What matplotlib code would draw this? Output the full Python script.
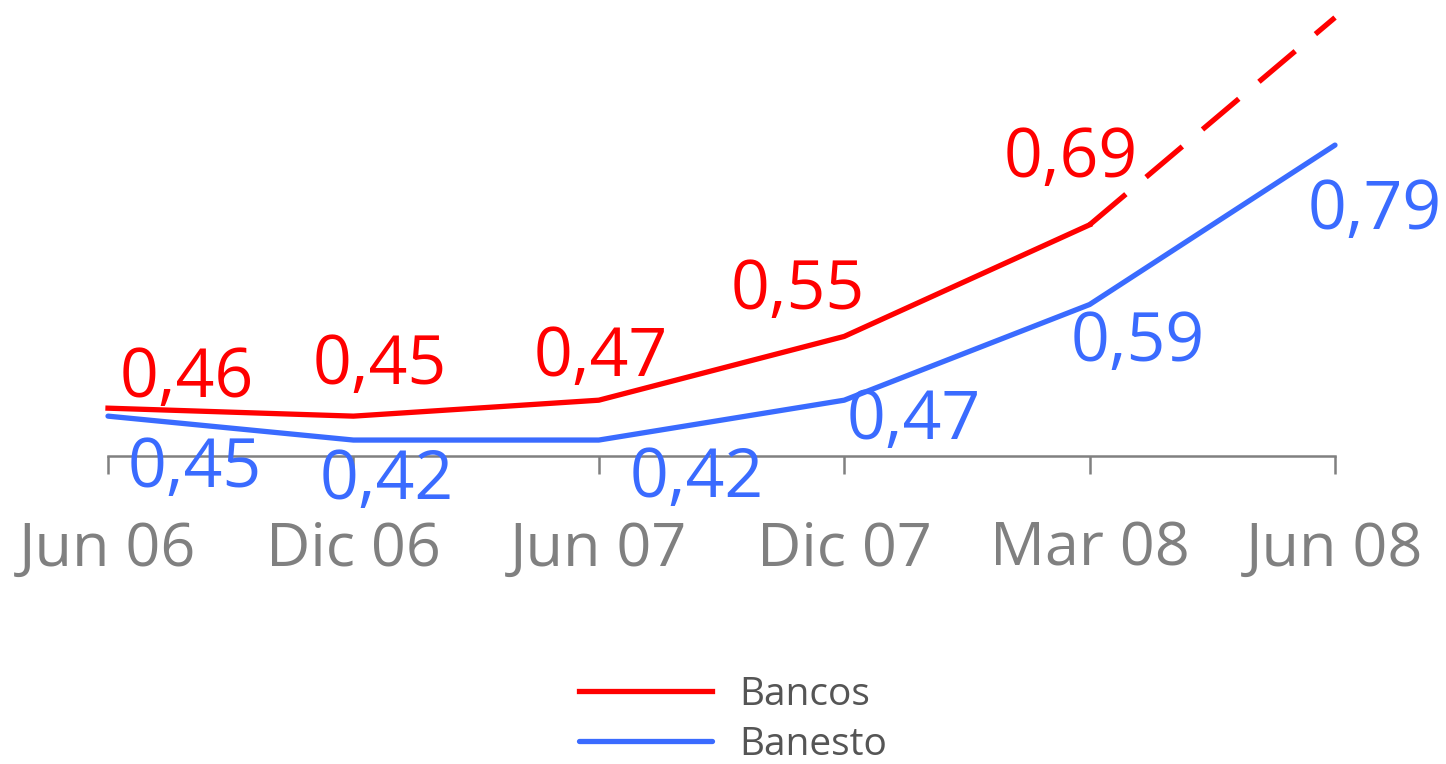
import matplotlib
matplotlib.use("Agg")
import matplotlib.pyplot as plt

periods = ["Jun 06", "Dic 06", "Jun 07", "Dic 07", "Mar 08", "Jun 08"]
bancos = [0.46, 0.45, 0.47, 0.55, 0.69]
bancos_jun08 = 0.95  # estimated, drawn dashed, no label
banesto = [0.45, 0.42, 0.42, 0.47, 0.59, 0.79]

RED = "#ff0000"
BLUE = "#3a6bff"
GRAY = "#808080"

# label offsets in pixels (dx, dy) relative to each point
bancos_offsets = [(79, 29), (26, 50), (2, 42), (-46, 45), (-19, 66)]
banesto_offsets = [(87, -53), (33, -41), (98, -39), (70, -21), (48, -39), (40, -66)]

plt.rcParams["font.family"] = ["Open Sans", "DejaVu Sans"]

fig = plt.figure(figsize=(14.46, 7.64), dpi=100)
ax = fig.add_axes([108 / 1446, 1 - 456 / 764, (1335 - 108) / 1446, 456 / 764])

x = list(range(len(periods)))
ax.plot(x[:len(bancos)], bancos, color=RED, linewidth=3.8, label="Bancos",
        clip_on=False)
ax.plot([x[len(bancos) - 1], x[-1]], [bancos[-1], bancos_jun08], color=RED,
        linewidth=3.8, dashes=(9, 5), clip_on=False)
ax.plot(x, banesto, color=BLUE, linewidth=3.8, label="Banesto",
        solid_capstyle="round", clip_on=False)

def fmt(v):
    return f"{v:.2f}".replace(".", ",")

for xi, v, (dx, dy) in zip(x, bancos, bancos_offsets):
    ax.annotate(fmt(v), (xi, v), xytext=(dx, dy), textcoords="offset pixels",
                ha="center", va="center", color=RED, fontsize=49)
for xi, v, (dx, dy) in zip(x, banesto, banesto_offsets):
    ax.annotate(fmt(v), (xi, v), xytext=(dx, dy), textcoords="offset pixels",
                ha="center", va="center", color=BLUE, fontsize=49)

ax.set_xlim(0, len(periods) - 1)
ax.set_ylim(0.40, 0.972)
ax.set_xticks(x)
ax.set_xticklabels(periods, fontsize=44, color=GRAY)
ax.set_yticks([])
for side in ["top", "right", "left"]:
    ax.spines[side].set_visible(False)
ax.spines["bottom"].set_color(GRAY)
ax.spines["bottom"].set_linewidth(1.8)
ax.tick_params(axis="x", length=13, width=1.8, color=GRAY, pad=33)
ax.patch.set_alpha(0)

fig.legend(loc="center", bbox_to_anchor=(0.507, 0.058), frameon=False,
           fontsize=28, labelcolor="#555555", handlelength=3.4,
           handletextpad=0.7, labelspacing=0.3, borderpad=0)

fig.savefig("out.png", dpi=100)
